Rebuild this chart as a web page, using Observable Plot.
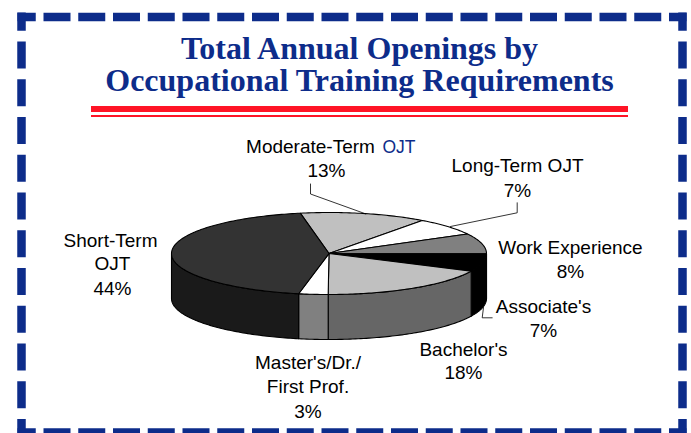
<!DOCTYPE html>
<html>
<head>
<meta charset="utf-8">
<style>html,body{margin:0;padding:0;background:#fff}svg{display:block}</style>
<script src="https://cdn.jsdelivr.net/npm/d3@7"></script>
<script src="https://cdn.jsdelivr.net/npm/@observablehq/plot@0.6"></script>
</head>
<body>
<div id="chart"></div>
<script>
// Data (clockwise from the Moderate-Term slice)
const categories = ["Moderate-Term OJT", "Long-Term OJT", "Work Experience", "Associate's", "Bachelor's", "Master's/Dr./First Prof.", "Short-Term OJT"];
const shares = [13, 7, 8, 7, 18, 3, 44];
const topColors = ["#c0c0c0", "#ffffff", "#808080", "#000000", "#c0c0c0", "#ffffff", "#333333"];
const sideColors = ["#999999", "#cccccc", "#666666", "#000000", "#666666", "#808080", "#1a1a1a"];

const titleLines = ["Total Annual Openings by", "Occupational Training Requirements"];

// Label lines
const labelText = ["Moderate-Term", "13%", "Long-Term OJT", "7%", "Work Experience", "8%", "Associate's", "7%", "Bachelor's", "18%", "Master's/Dr./", "First Prof.", "3%", "Short-Term", "OJT", "44%"];
const labelX = [310, 326, 517, 517, 570, 570, 543, 543, 463, 463, 307.5, 307.5, 307.5, 110, 112, 112];
const labelBase = [152, 176.5, 171.5, 196.5, 253, 277, 312, 336, 355, 378.5, 368.5, 392.5, 417.5, 246, 269.5, 294];

// Layout of the drawing, in picture units
const W = 691, H = 433;
const pie = {cx: 328.5, cy: 253, rx: 157.5, ry: 41, depth: 45, start: -10.5};
const navy = "#0d2c8a", red = "#ff1426";

const slices = d3.pairs(d3.cumsum([0, ...shares])).map(([a, b], i) => ({
  name: categories[i],
  a0: pie.start + a * 3.6,
  a1: pie.start + b * 3.6,
  top: topColors[i],
  side: sideColors[i]
}));

function rim(deg, drop = 0) {
  const t = deg * Math.PI / 180;
  return {x: pie.cx + pie.rx * Math.sin(t), y: pie.cy - pie.ry * Math.cos(t) + drop};
}
function arc(a0, a1, drop = 0) {
  const n = Math.max(2, Math.ceil(Math.abs(a1 - a0)));
  return d3.range(n + 1).map(k => rim(a0 + (a1 - a0) * k / n, drop));
}
function topPoly(s) {
  const c = {x: pie.cx, y: pie.cy};
  return [c, ...arc(s.a0, s.a1), c];
}
function sidePoly(s) {
  const a0 = Math.max(s.a0, 90), a1 = Math.min(s.a1, 270);
  if (a1 <= a0) return null;
  const up = arc(a0, a1);
  return [...up, ...arc(a1, a0, pie.depth), up[0]];
}

const lineSpec = {x: "x", y: "y", stroke: "#000", strokeWidth: 1.1, curve: "linear"};
const walls = slices.map(s => ({s, p: sidePoly(s)})).filter(d => d.p)
  .map(({s, p}) => Plot.line(p, {...lineSpec, fill: s.side}));
const tops = slices.map(s => Plot.line(topPoly(s), {...lineSpec, fill: s.top}));

const dash = (pts, pattern) => Plot.line(pts, {
  x: "x", y: "y", stroke: navy, strokeWidth: 8.5,
  strokeDasharray: pattern, strokeDashoffset: 8.75, strokeLinecap: "butt"
});
const L = 21, R = 682, T = 16.5, B = 432;

const leader = pts => Plot.line(pts, {x: "x", y: "y", stroke: "#000", strokeWidth: 0.8, curve: "linear"});

const labels = labelText.map((text, i) => ({text, x: labelX[i], y: labelBase[i]}));
const labelFont = {fontFamily: "Liberation Sans, Arial, sans-serif", fontSize: 19};

const chart = Plot.plot({
  width: W, height: H,
  margin: 0,
  style: {background: "#fff"},
  x: {domain: [0, W], range: [0, W], axis: null},
  y: {domain: [0, H], range: [0, H], axis: null},
  marks: [
    dash([{x: 17, y: T}, {x: 686, y: T}], "27 7.75"),
    dash([{x: 17, y: B}, {x: 686, y: B}], "27 7.75"),
    dash([{x: L, y: 12}, {x: L, y: 433}], "27 10.75"),
    dash([{x: R, y: 12}, {x: R, y: 433}], "27 10.75"),
    Plot.text(titleLines, {
      x: 359, y: (d, i) => [58.5, 90.5][i], text: d => d,
      fontFamily: "Liberation Serif, Times New Roman, serif", fontWeight: "bold", fontSize: 32,
      fill: navy, textAnchor: "middle", lineAnchor: "bottom"
    }),
    Plot.rectY([0], {x1: 91, x2: 628, y1: 106, y2: 112, fill: red}),
    Plot.rectY([0], {x1: 91, x2: 628, y1: 115, y2: 117, fill: red}),
    ...walls,
    ...tops,
    leader([{x: 310, y: 183.5}, {x: 310, y: 193.5}, {x: 365, y: 213.3}]),
    leader([{x: 450, y: 226}, {x: 516.7, y: 212.3}, {x: 516.7, y: 202.3}]),
    leader([{x: 483, y: 307}, {x: 481.7, y: 317.3}, {x: 491.7, y: 317.3}]),
    Plot.text(labels, {x: "x", y: "y", text: "text", ...labelFont, fill: "#000", textAnchor: "middle", lineAnchor: "bottom"}),
    Plot.text(["OJT"], {x: 382, y: 152, text: d => d, fontFamily: labelFont.fontFamily, fontSize: 17.5, fill: navy, textAnchor: "start", lineAnchor: "bottom"})
  ]
});
document.getElementById("chart").append(chart);
</script>
</body>
</html>
